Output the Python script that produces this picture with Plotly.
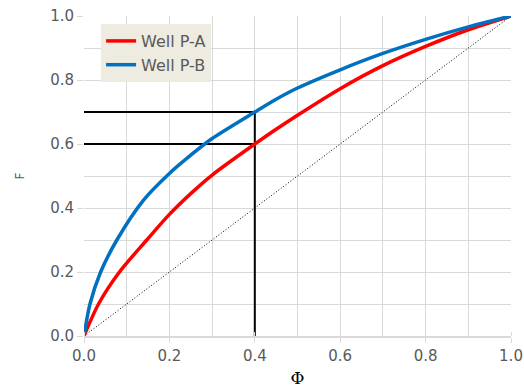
import plotly.graph_objects as go

phi_pa = [0.0, 0.034, 0.083, 0.147, 0.2, 0.25, 0.3, 0.4, 0.45, 0.5, 0.6, 0.7, 0.8, 0.9, 1.0]
f_pa = [0.0, 0.1, 0.2, 0.3, 0.38, 0.445, 0.503, 0.60, 0.646, 0.69, 0.773, 0.845, 0.905, 0.957, 1.0]
phi_pb = [0.0, 0.014, 0.039, 0.077, 0.139, 0.2, 0.25, 0.3, 0.4, 0.45, 0.5, 0.6, 0.7, 0.8, 0.9, 1.0]
f_pb = [0.0, 0.1, 0.2, 0.3, 0.424, 0.508, 0.565, 0.617, 0.70, 0.74, 0.775, 0.832, 0.883, 0.927, 0.966, 1.0]

diag_x = [0.0, 1.0]
diag_y = [0.0, 1.0]

ref_x = 0.4
ref_pa = 0.6
ref_pb = 0.7

fig = go.Figure()
fig.add_trace(go.Scatter(x=diag_x, y=diag_y, mode="lines",
                         line=dict(color="black", width=1, dash="1px,2px"),
                         showlegend=False, hoverinfo="skip"))
fig.add_trace(go.Scatter(x=[0, ref_x, ref_x], y=[ref_pb, ref_pb, 0], mode="lines",
                         line=dict(color="black", width=2), showlegend=False))
fig.add_trace(go.Scatter(x=[0, ref_x], y=[ref_pa, ref_pa], mode="lines",
                         line=dict(color="black", width=2), showlegend=False))
fig.add_trace(go.Scatter(x=phi_pa, y=f_pa, mode="lines", name="Well P-A",
                         line=dict(color="#FF0000", width=3.5, shape="spline", smoothing=0.8)))
fig.add_trace(go.Scatter(x=phi_pb, y=f_pb, mode="lines", name="Well P-B",
                         line=dict(color="#0070C0", width=3.5, shape="spline", smoothing=0.8)))

fig.update_layout(
    width=524, height=388,
    margin=dict(l=84, r=13, t=16, b=52, autoexpand=False),
    paper_bgcolor="white", plot_bgcolor="white",
    font=dict(family="DejaVu Sans", color="#595959", size=15),
    legend=dict(x=0.04, y=0.975, xanchor="left", yanchor="top",
                bgcolor="#EEEBE0", font=dict(size=16, color="#595959"),
                traceorder="normal", itemwidth=30, tracegroupgap=2),
    xaxis=dict(range=[0, 1], dtick=0.2, tickformat=".1f", automargin=False,
               showgrid=True, gridcolor="#D9D9D9", gridwidth=1,
               minor=dict(dtick=0.1, showgrid=True, gridcolor="#D9D9D9", ticks="inside", ticklen=4, tickcolor="#D9D9D9"),
               showline=True, linecolor="#D9D9D9", linewidth=1.5,
               ticks="outside", ticklen=5, tickcolor="#D9D9D9",
               zeroline=False,
               title=dict(text="Φ", font=dict(family="DejaVu Serif", size=17, color="black"), standoff=8)),
    yaxis=dict(range=[0, 1], dtick=0.2, tickformat=".1f", automargin=False,
               showgrid=True, gridcolor="#D9D9D9", gridwidth=1,
               minor=dict(dtick=0.1, showgrid=True, gridcolor="#D9D9D9"),
               showline=False,
               ticks="outside", ticklen=6, tickcolor="#D9D9D9",
               zeroline=False,
               title=dict(text="F", font=dict(size=12, color="#595959"), standoff=22)),
)

fig.write_html("out.html")
